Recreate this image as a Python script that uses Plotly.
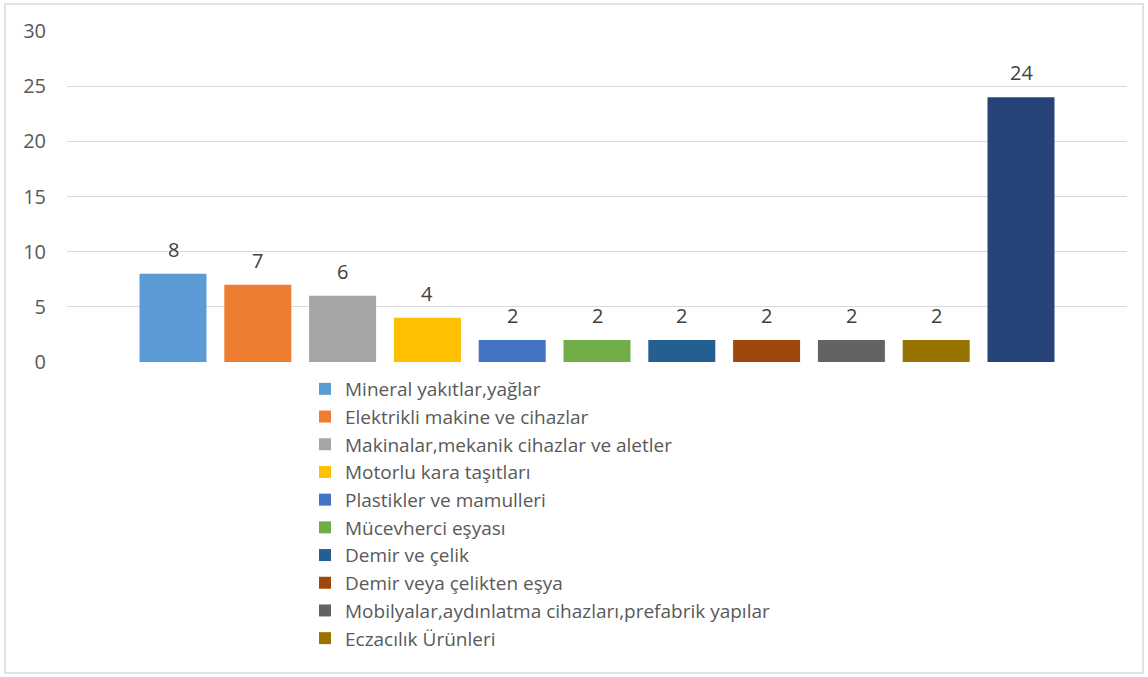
import plotly.graph_objects as go

categories = [
    "Mineral yakıtlar,yağlar",
    "Elektrikli makine ve cihazlar",
    "Makinalar,mekanik cihazlar ve aletler",
    "Motorlu kara taşıtları",
    "Plastikler ve mamulleri",
    "Mücevherci eşyası",
    "Demir ve çelik",
    "Demir veya çelikten eşya",
    "Mobilyalar,aydınlatma cihazları,prefabrik yapılar",
    "Eczacılık Ürünleri",
    "Diğer",
]
values = [8, 7, 6, 4, 2, 2, 2, 2, 2, 2, 24]
colors = ["#5B9BD5", "#ED7D31", "#A5A5A5", "#FFC000", "#4472C4", "#70AD47",
          "#255E91", "#9E480E", "#636363", "#997300", "#264478"]
show_in_legend = [True] * 10 + [False]
y_ticks = [0, 5, 10, 15, 20, 25, 30]

FONT = "Open Sans, Liberation Sans, sans-serif"

fig = go.Figure()
for i, (name, v, c, sl) in enumerate(zip(categories, values, colors, show_in_legend)):
    fig.add_trace(go.Bar(
        x=[i], y=[v], name=name, marker=dict(color=c, line=dict(width=0)),
        width=0.79, showlegend=sl, legendgroup=f"g{i}",
    ))

annotations = [
    dict(x=i, y=v, xref="x", yref="y", text=str(v), showarrow=False,
         yanchor="bottom", yshift=9,
         font=dict(size=20, color="#404040", family=FONT))
    for i, v in enumerate(values)
]

W, H = 1148, 677
ml, mr, mt, mb = 67, 21, 31, 315
pw, ph = W - ml - mr, H - mt - mb

def px(x):
    return (x - ml) / pw

def py(y):
    return (H - mb - y) / ph

fig.update_layout(
    width=W, height=H,
    margin=dict(l=ml, r=mr, t=mt, b=mb, autoexpand=False),
    paper_bgcolor="white", plot_bgcolor="white",
    barmode="overlay",
    font=dict(family=FONT, color="#595959"),
    xaxis=dict(range=[-1.25, 11.25], showticklabels=False, showgrid=False,
               zeroline=False, showline=False, ticks=""),
    yaxis=dict(range=[0, 30], tickvals=y_ticks, showgrid=True,
               gridcolor="#D9D9D9", gridwidth=1, zeroline=False,
               tickfont=dict(size=20, color="#595959", family=FONT),
               ticks="", ticklabelstandoff=20),
    legend=dict(x=305 / W, y=1 - 370 / H, xref="container", yref="container",
                xanchor="left", yanchor="top",
                orientation="v", traceorder="grouped", tracegroupgap=0,
                font=dict(size=19, color="#595959", family=FONT),
                itemwidth=30, bgcolor="rgba(0,0,0,0)"),
    annotations=annotations,
    shapes=[dict(type="rect", xref="paper", yref="paper",
                 x0=px(5), x1=px(1143), y0=py(673), y1=py(4),
                 line=dict(color="#D9D9D9", width=1.5), fillcolor="rgba(0,0,0,0)",
                 layer="below")],
)

fig.write_html("out.html", config={"displayModeBar": False})

# remove the default page margin so the figure sits at the window origin
with open("out.html", encoding="utf-8") as f:
    html = f.read()
html = html.replace("<head>", "<head><style>html,body{margin:0;padding:0;overflow:hidden}</style>", 1)
with open("out.html", "w", encoding="utf-8") as f:
    f.write(html)
